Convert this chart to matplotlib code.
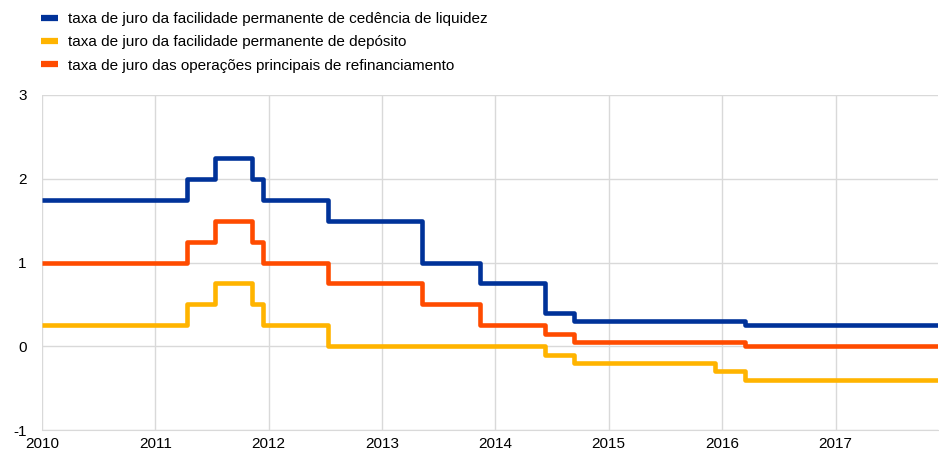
import matplotlib.pyplot as plt
import matplotlib.dates as mdates
import pandas as pd

plt.rcParams["font.family"] = ["Liberation Sans", "DejaVu Sans"]
plt.rcParams["axes.unicode_minus"] = False

# change dates of the ECB key rates (value applies from that date on)
mlf_dates = ["2010-01-01", "2011-04-13", "2011-07-13", "2011-11-09", "2011-12-14",
             "2012-07-11", "2013-05-08", "2013-11-13", "2014-06-11", "2014-09-10",
             "2016-03-16", "2017-11-30"]
mlf_rates = [1.75, 2.00, 2.25, 2.00, 1.75, 1.50, 1.00, 0.75, 0.40, 0.30, 0.25, 0.25]

dep_dates = ["2010-01-01", "2011-04-13", "2011-07-13", "2011-11-09", "2011-12-14",
             "2012-07-11", "2014-06-11", "2014-09-10", "2015-12-09", "2016-03-16",
             "2017-11-30"]
dep_rates = [0.25, 0.50, 0.75, 0.50, 0.25, 0.00, -0.10, -0.20, -0.30, -0.40, -0.40]

mro_dates = ["2010-01-01", "2011-04-13", "2011-07-13", "2011-11-09", "2011-12-14",
             "2012-07-11", "2013-05-08", "2013-11-13", "2014-06-11", "2014-09-10",
             "2016-03-16", "2017-11-30"]
mro_rates = [1.00, 1.25, 1.50, 1.25, 1.00, 0.75, 0.50, 0.25, 0.15, 0.05, 0.00, 0.00]

labels = [
    "taxa de juro da facilidade permanente de cedência de liquidez",
    "taxa de juro da facilidade permanente de depósito",
    "taxa de juro das operações principais de refinanciamento",
]
colors = ["#003299", "#FFB400", "#FF4B00"]

fig = plt.figure(figsize=(9.39, 4.55), dpi=100)
ax = fig.add_axes([42 / 939, 25 / 455, 896 / 939, 335 / 455])

series = [(mlf_dates, mlf_rates), (dep_dates, dep_rates), (mro_dates, mro_rates)]
for (d, v), lab, c in zip(series, labels, colors):
    ax.step(pd.to_datetime(d), v, where="post", color=c, linewidth=3.3,
            label=lab, solid_joinstyle="round", solid_capstyle="butt")

ax.set_ylim(-1, 3)
ax.set_yticks([-1, 0, 1, 2, 3])
ax.set_xlim(pd.Timestamp("2010-01-01"), pd.Timestamp("2017-11-27"))
ax.xaxis.set_major_locator(mdates.YearLocator())
ax.xaxis.set_major_formatter(mdates.DateFormatter("%Y"))
ax.grid(color="#d9d9d9", linewidth=1)
ax.set_axisbelow(True)
for s in ["top", "right", "left"]:
    ax.spines[s].set_visible(False)
ax.spines["bottom"].set_color("#d9d9d9")
ax.tick_params(length=0, labelsize=11, colors="black")
ax.tick_params(axis="y", pad=11)
ax.tick_params(axis="x", pad=5)

leg = fig.legend(loc="upper left", bbox_to_anchor=(29 / 939, 1.0), frameon=False,
                 fontsize=11, handlelength=1.1, handletextpad=0.65,
                 labelspacing=0.6, borderaxespad=0.4)
for h in leg.get_lines():
    h.set_linewidth(4.5)

fig.savefig("out.png", dpi=100)
